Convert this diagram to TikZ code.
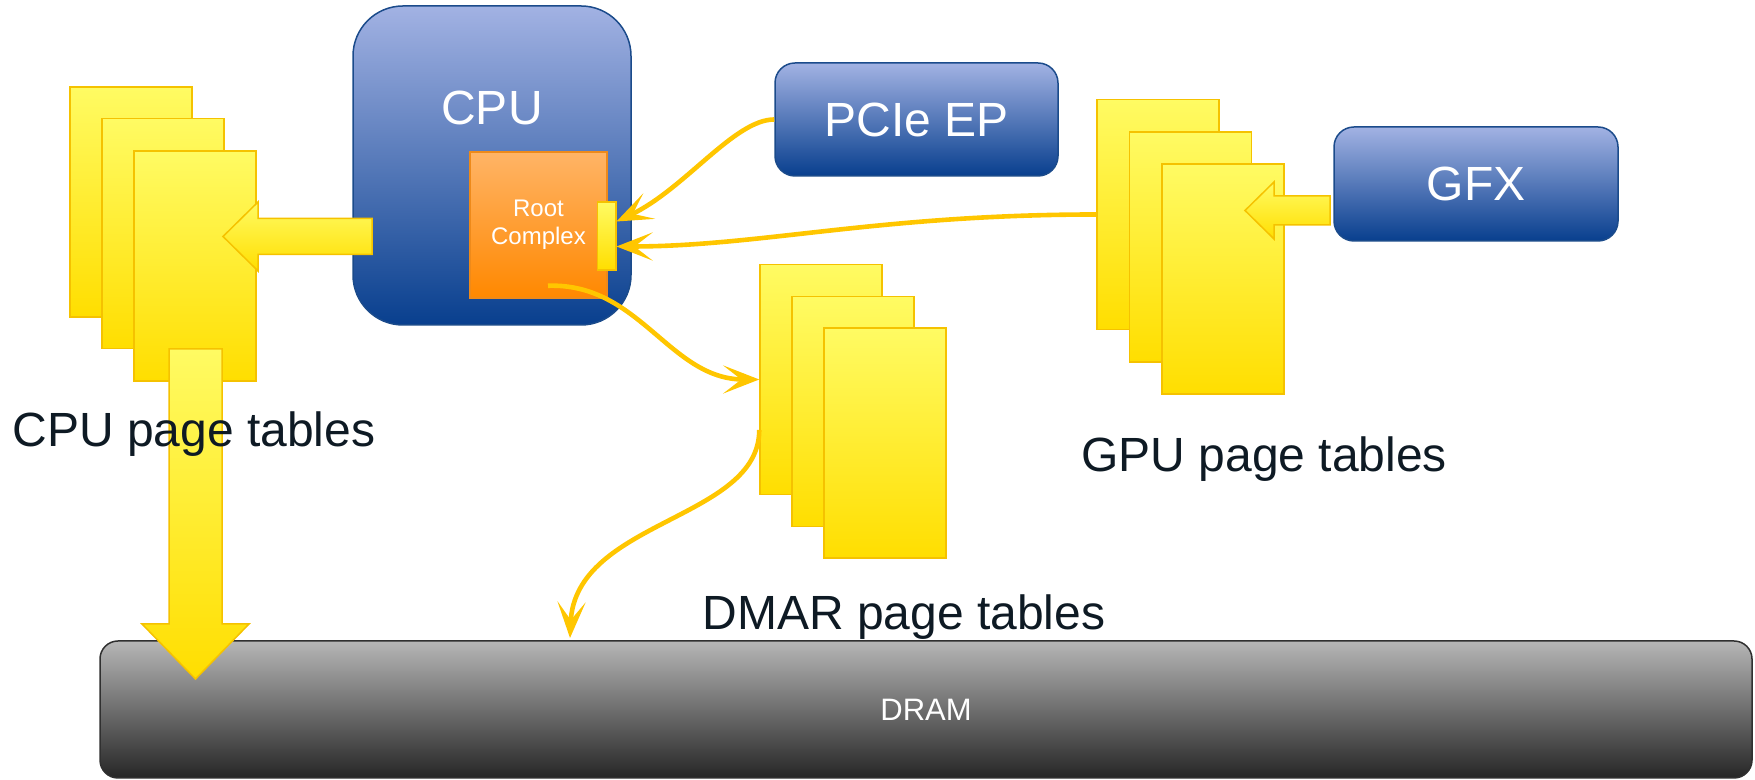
\documentclass[tikz,border=0pt]{standalone}
\usepackage{fontspec}
\setmainfont{Liberation Sans}
\usetikzlibrary{arrows.meta}
\definecolor{gold}{HTML}{FFC600}
\definecolor{ylight}{HTML}{FFFB63}
\definecolor{ydark}{HTML}{FFDE00}
\definecolor{yborder}{HTML}{F5C200}
\definecolor{blight}{HTML}{A2B2E3}
\definecolor{bdark}{HTML}{083F8E}
\definecolor{bborder}{HTML}{1B4B8B}
\definecolor{olight}{HTML}{FFB466}
\definecolor{odark}{HTML}{FF8800}
\definecolor{oborder}{HTML}{EE8A1A}
\definecolor{glight}{HTML}{B6B6B6}
\definecolor{gdark}{HTML}{262626}
\definecolor{gborder}{HTML}{303030}
\definecolor{txt}{HTML}{0E1A24}
\begin{document}
\begin{tikzpicture}[x=0.5pt,y=0.5pt,
  bluebox/.style={rectangle, rounded corners=10pt, top color=blight, bottom color=bdark, draw=bborder, line width=0.75pt, text=white, font=\fontsize{24}{28}\selectfont, inner sep=0pt},
  ptable/.style={rectangle, top color=ylight, bottom color=ydark, draw=yborder, line width=0.75pt, minimum width=61pt, minimum height=115pt, inner sep=0pt},
  blockarrow/.style={top color=ylight, bottom color=ydark, draw=yborder, line width=0.75pt, line join=miter},
  conn/.style={draw=gold, line width=2.3pt, -{Stealth[length=18pt,width=14pt,inset=9pt]}},
  pagelabel/.style={text=txt, font=\fontsize{24}{28}\selectfont, inner sep=0pt, anchor=base west}
]
\useasboundingbox (0,0) rectangle (1755,780);

% DRAM
\node[rectangle, rounded corners=9pt, top color=glight, bottom color=gdark, draw=gborder, line width=0.75pt, minimum width=826pt, minimum height=68.5pt, inner sep=0pt, text=white, font=\fontsize{15.5}{18}\selectfont] (dram) at (926,70.5) {DRAM};

% CPU
\node[bluebox, rounded corners=25pt, minimum width=139pt, minimum height=159.5pt] (cpu) at (492,614.5) {};
\node[text=white, font=\fontsize{24}{28}\selectfont, inner sep=0pt, anchor=base] (cpulabel) at (492,655) {CPU};
\node[rectangle, top color=olight, bottom color=odark, draw=oborder, line width=0.75pt, minimum width=68.5pt, minimum height=73pt, inner sep=0pt, text=white, align=center, font=\fontsize{12}{14}\selectfont] (rc) at (538.5,555) {Root\\Complex};
\node[rectangle, top color=ylight, bottom color=ydark, draw=yborder, line width=0.75pt, minimum width=9.25pt, minimum height=34pt, inner sep=0pt] (port) at (606.5,544) {};

% CPU page tables
\node[ptable] (cpt1) at (131,578) {};
\node[ptable] (cpt2) at (163,546.5) {};
\node[ptable] (cpt3) at (195,514) {};
\path[blockarrow] (372,561.5) -- (258,561.5) -- (258,578) -- (223,543.5) -- (258,509) -- (258,525.5) -- (372,525.5) -- cycle;
\path[blockarrow] (169,431) -- (222,431) -- (222,156) -- (249,156) -- (195.5,101) -- (142,156) -- (169,156) -- cycle;

% DMAR page tables
\node[ptable] (dpt1) at (821,400.5) {};
\node[ptable] (dpt2) at (853,368.5) {};
\node[ptable] (dpt3) at (885,337) {};

% GPU page tables
\node[ptable] (gpt1) at (1158,565.5) {};
\node[ptable] (gpt2) at (1190.5,533) {};
\node[ptable] (gpt3) at (1223,501) {};

% PCIe EP and GFX
\node[bluebox, minimum width=141.5pt, minimum height=56.5pt] (pcie) at (916.5,660.5) {PCIe EP};
\node[bluebox, minimum width=142pt, minimum height=57pt] (gfx) at (1476,596) {GFX};
\path[blockarrow] (1330,584) -- (1274,584) -- (1274,598) -- (1245,569.5) -- (1274,541) -- (1274,555) -- (1330,555) -- cycle;

% labels
\node[pagelabel] (cpucap) at (12,333) {CPU page tables};
\node[pagelabel] (gpucap) at (1081,308) {GPU page tables};
\node[pagelabel] (dmarcap) at (702,150) {DMAR page tables};

% connectors
\coordinate (dramin) at (570,142);
\draw[conn] (pcie.west) .. controls +(-40,0) and +(68,32) .. ([yshift=7.25pt]port.east);
\draw[conn] (gpt1.west) .. controls +(-217,0) and +(143,0) .. ([yshift=-5.25pt]port.east);
\draw[conn] ([xshift=4.75pt,yshift=6.5pt]rc.south) .. controls +(92,3) and +(-90,0) .. (dpt1.west);
\draw[conn] ([yshift=-25.25pt]dpt1.west) .. controls +(0,-90) and +(5,118) .. (dramin);
\end{tikzpicture}
\end{document}
